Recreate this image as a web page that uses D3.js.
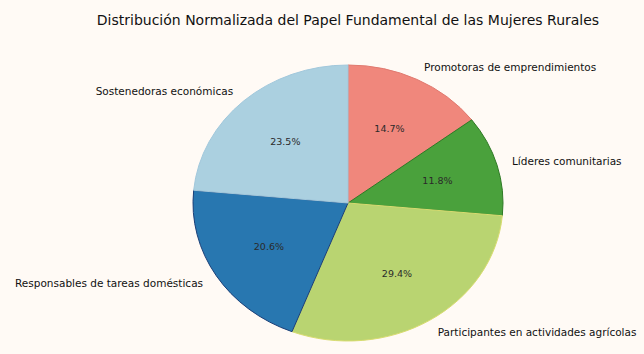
<!DOCTYPE html>
<html>
<head>
<meta charset="utf-8">
<script src="https://cdn.jsdelivr.net/npm/d3@7"></script>
<style>
  body { margin: 0; background: #fffaf5; }
  svg { display: block; font-family: "DejaVu Sans", sans-serif; }
</style>
</head>
<body>
<div id="chart-container"></div>
<script>
// Chart size
const width = 644, height = 354;

// Dataset (slices clockwise from 12 o'clock)
const categories = [
    "Promotoras de emprendimientos",
    "Líderes comunitarias",
    "Participantes en actividades agrícolas",
    "Responsables de tareas domésticas",
    "Sostenedoras económicas"
];
const values = [5, 4, 10, 7, 8];
const colors = ["#f0877c", "#4aa13c", "#b9d471", "#2877b0", "#abd0e0"];
const strokes = ["#e07a70", "#2f7a25", "#d8dc70", "#1b3f78", "#a2c8dc"];

function init() {
    const svg = d3.select("#chart-container")
        .append("svg")
        .attr("width", width)
        .attr("height", height);

    svg.append("rect")
        .attr("width", width)
        .attr("height", height)
        .attr("fill", "#fffaf5");

    // Title
    svg.append("text")
        .attr("x", 348)
        .attr("y", 25)
        .attr("text-anchor", "middle")
        .style("font-size", "14px")
        .style("fill", "#111")
        .text("Distribución Normalizada del Papel Fundamental de las Mujeres Rurales");

    // Pie is slightly wider than tall
    const cx = 348, cy = 203, ry = 138, rx = 155;
    const sx = rx / ry;

    const pie = d3.pie().sort(null).value(d => d.v);
    const arcs = pie(values.map((v, i) => ({ v, i })));
    const arc = d3.arc().innerRadius(0).outerRadius(ry);
    const total = d3.sum(values);

    const g = svg.append("g")
        .attr("transform", `translate(${cx},${cy}) scale(${sx},1)`);

    g.selectAll("path")
        .data(arcs)
        .enter()
        .append("path")
        .attr("d", arc)
        .attr("fill", d => colors[d.data.i])
        .attr("stroke", d => strokes[d.data.i])
        .attr("stroke-width", 1)
        .attr("vector-effect", "non-scaling-stroke");

    const pos = (d, k) => {
        const a = (d.startAngle + d.endAngle) / 2;
        return [cx + k * rx * Math.sin(a), cy - k * ry * Math.cos(a)];
    };

    // Percent labels
    svg.selectAll("text.pct")
        .data(arcs)
        .enter()
        .append("text")
        .attr("class", "pct")
        .attr("x", d => pos(d, 0.6)[0])
        .attr("y", d => pos(d, 0.6)[1])
        .attr("text-anchor", "middle")
        .attr("dominant-baseline", "central")
        .style("font-size", "9.5px")
        .style("fill", "#2a2a2a")
        .text(d => (d.data.v / total * 100).toFixed(1) + "%");

    // Category labels
    svg.selectAll("text.label")
        .data(arcs)
        .enter()
        .append("text")
        .attr("class", "label")
        .attr("x", d => pos(d, 1.1)[0])
        .attr("y", d => pos(d, 1.1)[1])
        .attr("text-anchor", d => Math.sin((d.startAngle + d.endAngle) / 2) > 0 ? "start" : "end")
        .attr("dominant-baseline", "central")
        .style("font-size", "10.5px")
        .style("fill", "#111")
        .text(d => categories[d.data.i]);
}

window.onload = init;
</script>
</body>
</html>
